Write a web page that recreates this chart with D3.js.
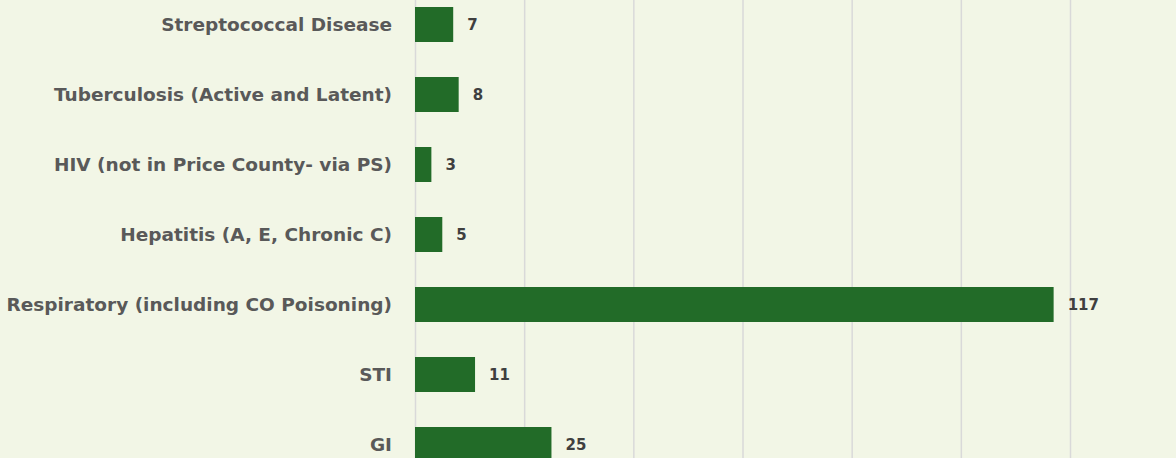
<!DOCTYPE html>
<html>

<head>
    <meta charset="UTF-8" />
    <style>
        body { margin: 0; background: #f2f6e6; }
        svg { display: block; }
        .label { font-family: "DejaVu Sans", sans-serif; font-weight: 700; fill: #595959; }
        .value { font-family: "DejaVu Sans", sans-serif; font-weight: 700; fill: #3f3f3f; }
    </style>
</head>

<body>
    <svg></svg>
    <script src="https://cdnjs.cloudflare.com/ajax/libs/d3/7.8.5/d3.min.js"></script>

    <script>
        let width = 1176,
            height = 458;

        // categories, top to bottom
        let categories = [
            "Streptococcal Disease",
            "Tuberculosis (Active and Latent)",
            "HIV (not in Price County- via PS)",
            "Hepatitis (A, E, Chronic C)",
            "Respiratory (including CO Poisoning)",
            "STI",
            "GI"
        ];
        let cases = [7, 8, 3, 5, 117, 11, 25];
        let gridTicks = [0, 20, 40, 60, 80, 100, 120];

        let svg = d3.select("svg").attr("width", width).attr("height", height);

        svg.append("rect").attr("width", width).attr("height", height).attr("fill", "#f2f6e6");

        let x = d3.scaleLinear().domain([0, 120]).range([415, 1070]);

        // chart is cropped top and bottom, so the band range runs past the edges
        let y = d3.scaleBand()
            .domain(categories)
            .range([-10.5, 479.5])
            .paddingInner(0.5)
            .paddingOuter(0.25);

        // vertical gridlines
        svg.append("g")
            .selectAll("line")
            .data(gridTicks)
            .enter()
            .append("line")
            .attr("x1", d => x(d) + 0.5)
            .attr("x2", d => x(d) + 0.5)
            .attr("y1", 0)
            .attr("y2", height)
            .attr("stroke", "#d9d9d9")
            .attr("stroke-width", 1.5);

        let rows = categories.map((c, i) => ({ name: c, value: cases[i] }));

        svg.append("g")
            .selectAll("rect")
            .data(rows)
            .enter()
            .append("rect")
            .attr("x", x(0))
            .attr("y", d => y(d.name))
            .attr("width", d => x(d.value) - x(0))
            .attr("height", y.bandwidth())
            .attr("fill", "#226b28");

        // category labels
        svg.append("g")
            .selectAll("text")
            .data(rows)
            .enter()
            .append("text")
            .attr("class", "label")
            .attr("x", 392)
            .attr("y", d => y(d.name) + y.bandwidth() / 2)
            .attr("dy", "0.35em")
            .attr("text-anchor", "end")
            .style("font-size", "18.5px")
            .text(d => d.name);

        // value labels
        svg.append("g")
            .selectAll("text")
            .data(rows)
            .enter()
            .append("text")
            .attr("class", "value")
            .attr("x", d => x(d.value) + 14)
            .attr("y", d => y(d.name) + y.bandwidth() / 2)
            .attr("dy", "0.38em")
            .style("font-size", "15px")
            .text(d => d.value);
    </script>
</body>

</html>
